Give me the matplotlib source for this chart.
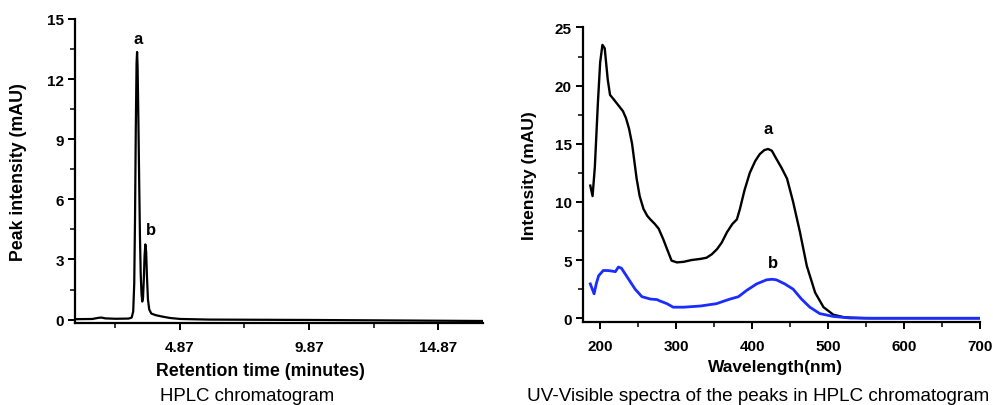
import matplotlib.pyplot as plt
from matplotlib.ticker import MultipleLocator, FixedLocator

plt.rcParams['font.family'] = ['Liberation Sans', 'DejaVu Sans']

# HPLC chromatogram (minutes, mAU)
hplc_time = [0.83, 1.5, 1.75, 1.85, 2.0, 2.4, 2.9, 3.02, 3.08, 3.12, 3.15, 3.18, 3.21,
             3.23, 3.25, 3.28, 3.31, 3.34, 3.37, 3.40, 3.43, 3.46, 3.49, 3.52, 3.55,
             3.58, 3.61, 3.65, 3.70, 3.78, 3.95, 4.2, 4.5, 4.9, 6.0, 10.0, 14.0, 16.6]
hplc_signal = [0.02, 0.03, 0.09, 0.1, 0.06, 0.04, 0.05, 0.1, 0.4, 1.8, 5.0, 9.5, 12.8,
               13.35, 12.6, 10.0, 7.0, 4.2, 2.3, 1.3, 0.9, 1.1, 2.0, 3.2, 3.75,
               3.4, 2.2, 1.0, 0.5, 0.3, 0.22, 0.15, 0.08, 0.03, 0.0, -0.02, -0.05, -0.07]
hplc_ticks = [4.87, 9.87, 14.87]

# UV-Vis spectra of the two peaks (nm, mAU)
wl_a = [187, 190, 193, 197, 200, 203, 206, 210, 213, 218, 224, 230, 234, 238, 242, 248,
        252, 257, 262, 266, 272, 277, 283, 288, 294, 301, 310, 320, 332, 340, 347, 354,
        360, 367, 374, 380, 384, 390, 397, 404, 410, 416, 421, 426, 432, 439, 446, 454,
        463, 472, 483, 494, 507, 520, 530, 550, 600, 700]
abs_a = [11.4, 10.5, 13.0, 18.5, 22.0, 23.5, 23.2, 20.5, 19.2, 18.8, 18.3, 17.8, 17.2,
         16.3, 15.0, 12.0, 10.5, 9.4, 8.8, 8.5, 8.1, 7.7, 6.8, 5.95, 4.95, 4.8, 4.85,
         5.0, 5.1, 5.2, 5.5, 5.95, 6.5, 7.4, 8.1, 8.5, 9.4, 11.0, 12.5, 13.5, 14.1, 14.45,
         14.55, 14.4, 13.7, 12.9, 12.0, 10.0, 7.4, 4.5, 2.2, 0.95, 0.3, 0.1, 0.05, 0.0,
         0.0, 0.0]

wl_b = [187, 192, 195, 198, 204, 210, 216, 220, 224, 228, 232, 237, 246, 255, 266, 275,
        278, 288, 296, 310, 332, 353, 362, 371, 382, 393, 406, 419, 426, 432, 443, 454,
        465, 476, 489, 507, 529, 560, 700]
abs_b = [2.95, 2.1, 3.0, 3.65, 4.1, 4.1, 4.05, 4.0, 4.4, 4.3, 3.9, 3.4, 2.5, 1.85, 1.65,
         1.6, 1.5, 1.25, 0.95, 0.95, 1.05, 1.25, 1.45, 1.65, 1.85, 2.4, 2.95, 3.3, 3.35,
         3.3, 2.95, 2.5, 1.65, 0.95, 0.4, 0.15, 0.02, 0.0, 0.0]

fig = plt.figure(figsize=(9.93, 4.06), dpi=100)

ax1 = fig.add_axes([0.0755, 0.202, 0.411, 0.749])
ax1.plot(hplc_time, hplc_signal, color='black', linewidth=1.6)
ax1.set_xlim(0.83, 16.6)
ax1.set_ylim(-0.17, 15)
ax1.xaxis.set_major_locator(FixedLocator(hplc_ticks))
ax1.xaxis.set_minor_locator(FixedLocator([2.37, 7.37, 12.37]))
ax1.yaxis.set_major_locator(MultipleLocator(3))
ax1.yaxis.set_minor_locator(MultipleLocator(1.5))
ax1.set_xticklabels([f'{v:.2f}' for v in hplc_ticks])
ax1.set_xlabel('Retention time (minutes)', fontsize=12.8, fontweight='bold')
ax1.xaxis.set_label_coords(0.455, -0.128)
ax1.set_ylabel('Peak intensity (mAU)', fontsize=12.8, fontweight='bold')
ax1.yaxis.set_label_coords(-0.118, 0.5)
ax1.text(3.27, 14.0, 'a', fontsize=12, fontweight='bold', ha='center', va='center')
ax1.text(3.78, 4.5, 'b', fontsize=12, fontweight='bold', ha='center', va='center')

ax2 = fig.add_axes([0.5868, 0.2037, 0.4001, 0.7263])
ax2.plot(wl_a, abs_a, color='black', linewidth=1.7)
ax2.plot(wl_b, abs_b, color='#1a2cff', linewidth=2)
ax2.set_xlim(177, 700)
ax2.set_ylim(-0.35, 25)
ax2.xaxis.set_major_locator(MultipleLocator(100))
ax2.xaxis.set_minor_locator(MultipleLocator(50))
ax2.yaxis.set_major_locator(MultipleLocator(5))
ax2.yaxis.set_minor_locator(MultipleLocator(2.5))
ax2.set_xlabel('Wavelength(nm)', fontsize=12.5, fontweight='bold')
ax2.xaxis.set_label_coords(0.486, -0.125)
ax2.set_ylabel('Intensity (mAU)', fontsize=12.5, fontweight='bold')
ax2.yaxis.set_label_coords(-0.115, 0.5)
ax2.text(421, 16.3, 'a', fontsize=12, fontweight='bold', ha='center', va='center')
ax2.text(427, 4.8, 'b', fontsize=12, fontweight='bold', ha='center', va='center')

for ax in (ax1, ax2):
    ax.spines['top'].set_visible(False)
    ax.spines['right'].set_visible(False)
    ax.spines['left'].set_linewidth(1.6)
    ax.spines['bottom'].set_linewidth(1.6)
    ax.tick_params(which='major', direction='out', length=5, width=1.4, labelsize=11)
    ax.tick_params(which='minor', direction='out', length=3.5, width=1.1)
    ax.tick_params(axis='x', which='major', pad=7)
    ax.tick_params(axis='y', which='major', pad=3)
    for lab in ax.get_xticklabels() + ax.get_yticklabels():
        lab.set_fontweight('bold')

fig.text(0.249, 0.024, 'HPLC chromatogram', fontsize=13.4, ha='center', va='center')
fig.text(0.763, 0.024, 'UV-Visible spectra of the peaks in HPLC chromatogram',
         fontsize=13.6, ha='center', va='center')

fig.savefig('out.png', dpi=100)
